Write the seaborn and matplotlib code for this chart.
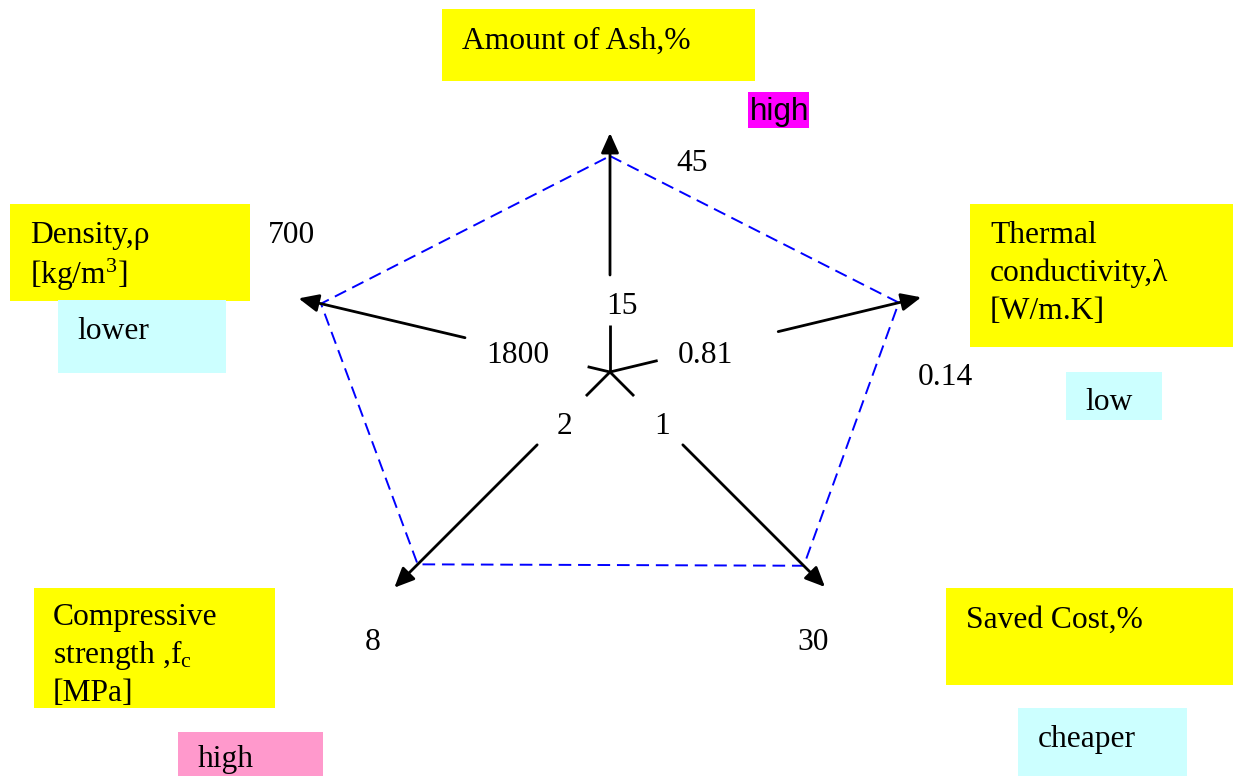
import numpy as np
import pandas as pd
import matplotlib.pyplot as plt
import seaborn as sns
from matplotlib.patches import Rectangle

# Chart data: five property axes, value at the centre end and at the outer end
axis_titles = [
    ["Amount of Ash,%"],
    ["Thermal", "conductivity,λ", "[W/m.K]"],
    ["Saved Cost,%"],
    ["Compressive", "strength ,f$_{\\mathrm{c}}$", "[MPa]"],
    ["Density,ρ", "[kg/m$^{3}$]"],
]
inner_values = [15, 0.81, 1, 2, 1800]
outer_values = [45, 0.14, 30, 8, 700]
tendency = ["high", "low", "cheaper", "high", "lower"]
tendency_colors = ["#ff00ff", "#ccffff", "#ccffff", "#ff99cc", "#ccffff"]

sns.set_style("white")
plt.rcParams["font.family"] = ["Liberation Serif", "DejaVu Serif"]
plt.rcParams["text.color"] = "black"
plt.rcParams["mathtext.fontset"] = "custom"
plt.rcParams["mathtext.rm"] = "Liberation Serif"
plt.rcParams["mathtext.it"] = "Liberation Serif:italic"
FS = 22.7

# Layout (pixel space of the picture)
cx, cy = 610, 372
angles = [90, 13.5, -45, -135, 166.7]
r_gap_in = [47, 49, 34, 34, 23]
r_gap_out = [97, 173, 103, 103, 149]
r_scale = [216, 297, 274, 272, 297]
r_tip = [239, 320, 304, 305, 320]

inner_pos = [(622, 314), (705, 363), (662, 434), (565, 434), (518, 363)]
outer_pos = [(692, 171), (945, 385), (813, 650), (373, 650), (292, 243)]
title_boxes = [(442, 9, 755, 81), (970, 204, 1233, 347), (946, 588, 1233, 685),
               (34, 588, 275, 708), (10, 204, 250, 301)]
title_text = [(462, 49), (990, 243), (966, 628), (53, 625), (30, 243)]
tend_boxes = [(748, 92, 809, 128), (1066, 372, 1162, 420), (1018, 708, 1187, 776),
              (178, 732, 323, 776), (58, 300, 226, 373)]
tend_text = [(750, 120), (1085, 410), (1038, 747), (198, 767), (77, 339)]


def point(i, r):
    a = np.deg2rad(angles[i])
    return cx + r * np.cos(a), cy - r * np.sin(a)


fig = plt.figure(figsize=(12.33, 7.76), dpi=100)
ax = fig.add_axes([0, 0, 1, 1])

# yellow title boxes and coloured tendency boxes
for (x0, y0, x1, y1) in title_boxes:
    ax.add_patch(Rectangle((x0, y0), x1 - x0, y1 - y0, color="#ffff00", lw=0, zorder=1))
for (x0, y0, x1, y1), c in zip(tend_boxes, tendency_colors):
    ax.add_patch(Rectangle((x0, y0), x1 - x0, y1 - y0, color=c, lw=0, zorder=1))

# dashed polygon through the outer values of every axis
rows = []
for i in range(len(outer_values) + 1):
    k = i % len(outer_values)
    frac = (outer_values[k] - inner_values[k]) / (outer_values[k] - inner_values[k])
    x, y = point(k, r_scale[k] * frac)
    rows.append({"order": i, "x": x, "y": y})
poly = pd.DataFrame(rows)
sns.lineplot(data=poly, x="x", y="y", sort=False, estimator=None, color="blue",
             lw=1.4, linestyle=(0, (6.5, 3.5)), ax=ax, legend=False, zorder=2)

# axes: short inner piece, gap for the value label, outer arrow
for i in range(len(angles)):
    x0, y0 = point(i, 0)
    x1, y1 = point(i, r_gap_in[i])
    ax.plot([x0, x1], [y0, y1], color="black", lw=2, zorder=3, solid_capstyle="butt")
    ax.annotate("", xy=point(i, r_tip[i]), xytext=point(i, r_gap_out[i]),
                arrowprops=dict(arrowstyle="-|>,head_length=0.6,head_width=0.27",
                                mutation_scale=20, color="black", lw=2,
                                shrinkA=0, shrinkB=0), zorder=3)

# value labels
for v, (x, y) in zip(inner_values, inner_pos):
    ax.text(x, y, f"{v:g}", fontsize=FS, ha="center", va="baseline", zorder=4)
for v, (x, y) in zip(outer_values, outer_pos):
    ax.text(x, y, f"{v:g}", fontsize=FS, ha="center", va="baseline", zorder=4)

# axis titles, line by line
for lines, (x, y), box in zip(axis_titles, title_text, title_boxes):
    for k, s in enumerate(lines):
        yy = y + 38 * k + (3 if s.startswith("[kg") else 0)
        t = ax.text(x, yy, s, fontsize=FS, ha="left", va="baseline", zorder=4)
        if s == "[MPa]":
            clip = Rectangle((box[0], box[1]), box[2] - box[0], 700 - box[1],
                             transform=ax.transData, visible=False)
            ax.add_patch(clip)
            t.set_clip_path(clip)

# tendency words
for i, (s, (x, y)) in enumerate(zip(tendency, tend_text)):
    fam = ["Liberation Sans", "DejaVu Sans"] if i == 0 else ["Liberation Serif", "DejaVu Serif"]
    ax.text(x, y, s, fontsize=FS, ha="left", va="baseline", family=fam, zorder=4)

ax.set_xlim(0, 1233)
ax.set_ylim(776, 0)
ax.axis("off")

fig.savefig("out.png", dpi=100)
